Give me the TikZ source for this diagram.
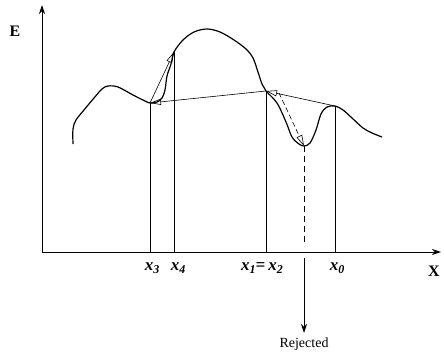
\documentclass[tikz,border=0pt]{standalone}
\usepackage{fontspec}
\setmainfont{Liberation Serif}
\usetikzlibrary{arrows.meta}
\newcommand{\mysub}[1]{\raisebox{-3.5pt}{\fontsize{12}{12}\selectfont #1}}
\begin{document}
\begin{tikzpicture}[x=1pt,y=-1pt,
  axis/.style={line width=0.9pt,-{Stealth[length=9pt,width=6pt]}},
  curve/.style={line width=1.2pt,line join=round},
  vline/.style={line width=0.9pt},
  move/.style={line width=0.6pt,-{Triangle[open,length=11pt,width=6pt]}},
  lbl/.style={font=\fontsize{17}{18}\selectfont\bfseries\itshape,inner sep=0pt},
  axlbl/.style={font=\fontsize{16}{18}\selectfont\bfseries,inner sep=0pt}]
\useasboundingbox (0,0) rectangle (444,359);
% points
\coordinate (O) at (42,252);
\coordinate (Ytop) at (42,5);
\coordinate (Xend) at (441,252);
\coordinate (P3) at (150,103);
\coordinate (P4) at (174,52);
\coordinate (P2) at (266,91);
\coordinate (P0) at (335,106);
\coordinate (Pd) at (304,146);
\coordinate (B3) at (150,252);
\coordinate (B4) at (174,252);
\coordinate (B2) at (266,252);
\coordinate (B0) at (335,252);
\coordinate (Bd) at (304,246);
\coordinate (Rs) at (304,258);
\coordinate (Re) at (304,333);
\coordinate (Ds) at (279,93);
% axes
\draw[axis] (O) -- (Ytop);
\draw[axis] (O) -- (Xend);
\node[axlbl] (E) at (15,31) {E};
\node[axlbl] (X) at (434,271) {X};
% curve
\draw[curve] plot[smooth,tension=0.55] coordinates {
 (73,144) (73,129) (76,120) (84,110) (94,98) (102,89) (108,86) (118,87) (133,95) (145,101) (150,103)
 (157,102) (162,98) (165,90) (167,76) (171,64) (174,52)
 (183,40) (194,32) (207,29) (220,32) (234,40) (246,49) (253,58) (258,72) (262,84) (266,91)
 (277,103) (286,122) (292,137) (299,144) (304,146) (310,143) (316,130) (321,114) (327,107) (335,106)
 (343,110) (352,118) (363,128) (372,133) (382,137)};
% verticals
\draw[vline] (B3) -- (P3);
\draw[vline] (B4) -- (P4);
\draw[vline] (B2) -- (P2);
\draw[vline] (B0) -- (P0);
\draw[vline,dashed,dash pattern=on 6pt off 4pt] (Pd) -- (Bd);
\draw[line width=0.9pt,-{Stealth[length=9pt,width=6pt]}] (Rs) -- (Re);
\node[font=\fontsize{14}{16}\selectfont,anchor=north,inner sep=0pt] (R) at (304,338) {Rejected};
% moves
\draw[move] (P3) -- (P4);
\draw[move] (P2) -- (P3);
\draw[move] (P0) -- (P2);
\draw[move,dashed,dash pattern=on 5pt off 3pt] (Ds) -- (Pd);
% labels
\node[lbl] (L3) at (152,268) {x\mysub{3}};
\node[lbl] (L4) at (178,268) {x\mysub{4}};
\node[lbl] (L12) at (262,268) {x\mysub{1}=\,x\mysub{2}};
\node[lbl] (L0) at (337,268) {x\mysub{0}};
\end{tikzpicture}
\end{document}
